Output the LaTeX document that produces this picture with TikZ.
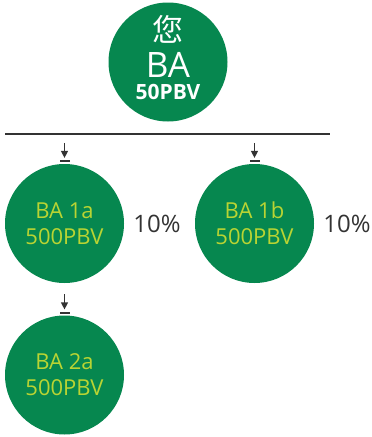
\documentclass[tikz,border=0pt]{standalone}
\usepackage{fontspec}
\setmainfont{Open Sans}
\newfontfamily\cjk{Noto Sans CJK SC}
\usetikzlibrary{positioning, arrows.meta}

\definecolor{bagreen}{HTML}{06874F}
\definecolor{balime}{HTML}{B9D433}
\definecolor{pctgray}{HTML}{333333}

\begin{document}
\begin{tikzpicture}[x=1pt, y=-1pt]
    % Styles
    \tikzstyle{account} = [circle, fill=bagreen, minimum size=119pt, inner sep=0pt, align=center, text=balime, font=\fontsize{22}{26}\selectfont]
    \tikzstyle{root text} = [text=white, inner sep=0pt, anchor=base]
    \tikzstyle{share} = [text=pctgray, inner sep=0pt, font=\fontsize{24}{28}\selectfont]
    \tikzstyle{bar} = [fill=pctgray, minimum width=10pt, minimum height=2pt, inner sep=0pt]
    \tikzstyle{edge} = [-{Triangle[length=7pt, width=7pt]}, line width=1.2pt, pctgray]

    \useasboundingbox (0,0) rectangle (372,437);

    % Nodes
    \node[account] (ba) at (168,62) {};
    \node[root text, font=\cjk\fontsize{31}{31}\selectfont] (ba-cjk) at (168,41) {您};
    \node[root text, font=\fontsize{35}{35}\selectfont] (ba-name) at (168,77) {BA};
    \node[root text, font=\bfseries\fontsize{21}{21}\selectfont] (ba-pbv) at (168,99) {50PBV};

    \node[account] (ba1a) at (64.5,223.5) {BA 1a\\500PBV};
    \node[account] (ba1b) at (254.5,223.5) {BA 1b\\500PBV};
    \node[account] (ba2a) at (64.5,375) {BA 2a\\500PBV};

    \node[share, right=9pt of ba1a] (ba1a-share) {10\%};
    \node[share, right=9pt of ba1b] (ba1b-share) {10\%};

    \node[bar, above=1.5pt of ba1a] (ba1a-bar) {};
    \node[bar, above=1.5pt of ba1b] (ba1b-bar) {};
    \node[bar, above=1.5pt of ba2a] (ba2a-bar) {};

    \coordinate[above=17pt of ba1a-bar] (ba1a-in);
    \coordinate[above=17pt of ba1b-bar] (ba1b-in);
    \coordinate[above=17pt of ba2a-bar] (ba2a-in);

    \coordinate (rule-l) at (5,134);
    \coordinate (rule-r) at (330,134);

    % Edges
    \draw[line width=1.5pt, pctgray] (rule-l) -- (rule-r);
    \draw[edge] (ba1a-in) -- ([yshift=2pt]ba1a-bar.north);
    \draw[edge] (ba1b-in) -- ([yshift=2pt]ba1b-bar.north);
    \draw[edge] (ba2a-in) -- ([yshift=2pt]ba2a-bar.north);
\end{tikzpicture}
\end{document}
